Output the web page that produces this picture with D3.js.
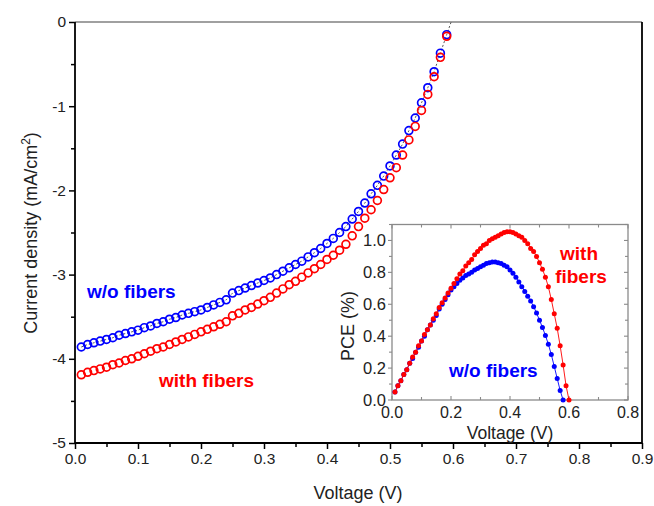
<!DOCTYPE html>
<html>
<head>
<meta charset="utf-8">
<script src="https://cdn.jsdelivr.net/npm/d3@7/dist/d3.min.js"></script>
<style>
  body { margin: 0; background: #fff; }
  svg { display: block; font-family: "Liberation Sans", Arial, sans-serif; }
</style>
</head>
<body>
<svg id="chart" width="654" height="506"></svg>
<script>
// J-V sweep (V), shared by both devices
const jvVoltage = [0.01,0.02,0.03,0.04,0.05,0.06,0.07,0.08,0.09,0.10,
  0.11,0.12,0.13,0.14,0.15,0.16,0.17,0.18,0.19,0.20,
  0.21,0.22,0.23,0.24,0.25,0.26,0.27,0.28,0.29,0.30,
  0.31,0.32,0.33,0.34,0.35,0.36,0.37,0.38,0.39,0.40,
  0.41,0.42,0.43,0.44,0.45,0.46,0.47,0.48,0.49,0.50,
  0.51,0.52,0.53,0.54,0.55,0.56,0.57,0.58,0.59];

// Current density (mA/cm2)
const jWithout = [-3.86,-3.83,-3.81,-3.79,-3.77,-3.75,-3.72,-3.70,-3.68,-3.66,
  -3.63,-3.61,-3.58,-3.56,-3.53,-3.51,-3.48,-3.46,-3.44,-3.42,
  -3.39,-3.36,-3.33,-3.30,-3.22,-3.19,-3.16,-3.13,-3.10,-3.07,
  -3.04,-3.00,-2.96,-2.92,-2.88,-2.84,-2.79,-2.74,-2.69,-2.63,
  -2.57,-2.50,-2.43,-2.34,-2.25,-2.15,-2.04,-1.94,-1.83,-1.71,
  -1.58,-1.45,-1.29,-1.14,-0.96,-0.78,-0.59,-0.37,-0.15];
const jWith = [-4.19,-4.16,-4.14,-4.12,-4.10,-4.07,-4.05,-4.02,-4.00,-3.97,
  -3.94,-3.91,-3.88,-3.86,-3.83,-3.80,-3.77,-3.74,-3.71,-3.68,
  -3.65,-3.62,-3.59,-3.56,-3.49,-3.46,-3.42,-3.39,-3.35,-3.31,
  -3.27,-3.22,-3.17,-3.12,-3.08,-3.03,-2.98,-2.93,-2.88,-2.82,
  -2.77,-2.71,-2.64,-2.54,-2.43,-2.33,-2.23,-2.12,-1.99,-1.85,
  -1.73,-1.58,-1.40,-1.24,-1.05,-0.86,-0.65,-0.42,-0.17];
// open-circuit voltage, where the guide line meets J = 0
const vocJV = 0.597;

// PCE (%) vs voltage for the inset
const pceVoltageWithout = [0.01,0.02,0.03,0.04,0.05,0.06,0.07,0.08,0.09,0.10,
  0.11,0.12,0.13,0.14,0.15,0.16,0.17,0.18,0.19,0.20,
  0.21,0.22,0.23,0.24,0.25,0.26,0.27,0.28,0.29,0.30,
  0.31,0.32,0.33,0.34,0.35,0.36,0.37,0.38,0.39,0.40,
  0.41,0.42,0.43,0.44,0.45,0.46,0.47,0.48,0.49,0.50,
  0.51,0.52,0.53,0.54,0.55,0.56,0.57,0.58];
const pceWithout = [0.05,0.09,0.12,0.16,0.19,0.23,0.26,0.30,0.33,0.37,
  0.40,0.44,0.47,0.50,0.53,0.57,0.60,0.63,0.66,0.69,
  0.71,0.73,0.75,0.765,0.78,0.79,0.80,0.815,0.825,0.835,
  0.845,0.855,0.86,0.865,0.865,0.86,0.855,0.845,0.835,0.815,
  0.795,0.77,0.74,0.71,0.68,0.65,0.62,0.585,0.545,0.50,
  0.455,0.405,0.35,0.285,0.21,0.135,0.06,0.00];
const pceVoltageWith = [0.01,0.02,0.03,0.04,0.05,0.06,0.07,0.08,0.09,0.10,
  0.11,0.12,0.13,0.14,0.15,0.16,0.17,0.18,0.19,0.20,
  0.21,0.22,0.23,0.24,0.25,0.26,0.27,0.28,0.29,0.30,
  0.31,0.32,0.33,0.34,0.35,0.36,0.37,0.38,0.39,0.40,
  0.41,0.42,0.43,0.44,0.45,0.46,0.47,0.48,0.49,0.50,
  0.51,0.52,0.53,0.54,0.55,0.56,0.57,0.58,0.59,0.60];
const pceWith = [0.05,0.09,0.12,0.16,0.19,0.23,0.27,0.30,0.34,0.37,
  0.41,0.44,0.47,0.51,0.54,0.58,0.61,0.64,0.67,0.70,
  0.73,0.76,0.79,0.81,0.84,0.86,0.88,0.91,0.93,0.95,
  0.97,0.98,1.00,1.01,1.02,1.03,1.04,1.05,1.055,1.055,
  1.05,1.04,1.03,1.02,1.00,0.98,0.95,0.93,0.90,0.86,
  0.82,0.77,0.71,0.63,0.54,0.45,0.34,0.22,0.09,0.00];

// tick labels
const mainXTicks = [0,0.1,0.2,0.3,0.4,0.5,0.6,0.7,0.8,0.9];
const mainYTicks = [0,-1,-2,-3,-4,-5];
const insetXTicks = [0,0.2,0.4,0.6,0.8];
const insetYTicks = [0,0.2,0.4,0.6,0.8,1.0];

const BLUE = "#0000ff", RED = "#ff0000";

const svg = d3.select("#chart");

// ---------- main J-V panel ----------
const x = d3.scaleLinear().domain([0, 0.9]).range([75, 642]);
const y = d3.scaleLinear().domain([0, -5]).range([22, 443]);

const axisG = svg.append("g");
// frame: gray line at J = 0, black left/right/bottom
axisG.append("line").attr("x1", x(0)).attr("x2", x(0.9)).attr("y1", y(0)).attr("y2", y(0))
  .attr("stroke", "#808080").attr("stroke-width", 1.6);
axisG.append("line").attr("x1", x(0.9)).attr("x2", x(0.9)).attr("y1", y(0)).attr("y2", y(-5))
  .attr("stroke", "#000").attr("stroke-width", 1.8);

const xAxis = d3.axisBottom(x).tickValues(mainXTicks).tickFormat(d3.format(".1f")).tickSize(6).tickPadding(4);
const gx = svg.append("g").attr("transform", `translate(0,${y(-5)})`).call(xAxis);
gx.selectAll(".tick line").attr("stroke-width", 1.5);
const xMinor = d3.axisBottom(x).tickValues(d3.range(0.05, 0.9, 0.1)).tickFormat("").tickSize(4);
svg.append("g").attr("transform", `translate(0,${y(-5)})`).call(xMinor)
  .call(g => g.select(".domain").remove())
  .selectAll(".tick line").attr("stroke-width", 1.5);
gx.select(".domain").attr("stroke-width", 1.8).attr("d", `M${x(0)},0H${x(0.9)}`);
gx.selectAll("text").attr("font-size", 15.5).attr("fill", "#222").attr("font-family", "Liberation Sans, Arial, sans-serif");

const yAxis = d3.axisLeft(y).tickValues(mainYTicks).tickFormat(d => d === 0 ? "0" : String(d)).tickSize(6).tickPadding(3);
const gy = svg.append("g").attr("transform", `translate(${x(0)},0)`).call(yAxis);
gy.selectAll(".tick line").attr("stroke-width", 1.5);
gy.select(".domain").attr("stroke-width", 1.8).attr("d", `M0,${y(0)}V${y(-5)}`);
gy.selectAll("text").attr("font-size", 15.5).attr("fill", "#222").attr("font-family", "Liberation Sans, Arial, sans-serif");
const yMinor = d3.axisLeft(y).tickValues([-0.5,-1.5,-2.5,-3.5,-4.5]).tickFormat("").tickSize(4);
svg.append("g").attr("transform", `translate(${x(0)},0)`).call(yMinor)
  .call(g => g.select(".domain").remove())
  .selectAll(".tick line").attr("stroke-width", 1.5);

// axis titles
svg.append("text").attr("x", 358).attr("y", 499).attr("text-anchor", "middle")
  .attr("font-size", 18).attr("fill", "#222").text("Voltage (V)");
const yt = svg.append("text").attr("transform", "translate(37,233) rotate(-90)")
  .attr("text-anchor", "middle").attr("font-size", 18).attr("fill", "#222");
yt.append("tspan").text("Current density (mA/cm");
yt.append("tspan").attr("font-size", 12).attr("dy", -7).text("2");
yt.append("tspan").attr("dy", 7).text(")");

// dashed guide line through the J-V points up to Voc
const jvLine = d3.line().x(d => x(d[0])).y(d => y(d[1]));
const guidePts = jvVoltage.map((v, i) => [v, jWithout[i]]).concat([[vocJV, 0]]);
svg.append("path").attr("d", jvLine(guidePts)).attr("fill", "none")
  .attr("stroke", "#555").attr("stroke-width", 1).attr("stroke-dasharray", "2,2");

function circles(vs, js, color) {
  svg.append("g").selectAll("circle").data(vs.map((v, i) => [v, js[i]])).join("circle")
    .attr("cx", d => x(d[0])).attr("cy", d => y(d[1])).attr("r", 3.9)
    .attr("fill", "none").attr("stroke", color).attr("stroke-width", 1.7);
}
circles(jvVoltage, jWithout, BLUE);
circles(jvVoltage, jWith, RED);

svg.append("text").attr("x", 87).attr("y", 298).attr("font-size", 19).attr("font-weight", "bold")
  .attr("fill", BLUE).text("w/o fibers");
svg.append("text").attr("x", 159).attr("y", 387).attr("font-size", 19).attr("font-weight", "bold")
  .attr("fill", RED).text("with fibers");

// ---------- inset PCE panel ----------
const ix = d3.scaleLinear().domain([0, 0.8]).range([392, 628]);
const iy = d3.scaleLinear().domain([0, 1.1]).range([400, 224.5]);
const GRAY = "#8a8a8a";

svg.append("rect").attr("x", ix(0)).attr("y", iy(1.1)).attr("width", ix(0.8) - ix(0))
  .attr("height", iy(0) - iy(1.1)).attr("fill", "#fff").attr("stroke", GRAY).attr("stroke-width", 1.3);

const ixTicksAll = d3.range(0, 9).map(i => i / 10);
const iyTicksAll = d3.range(0, 12).map(i => i / 10);
const tickG = svg.append("g").attr("stroke", GRAY).attr("stroke-width", 1.1);
ixTicksAll.forEach((t, i) => {
  const len = i % 2 === 0 ? 4 : 3;
  tickG.append("line").attr("x1", ix(t)).attr("x2", ix(t)).attr("y1", iy(0)).attr("y2", iy(0) - len);
  tickG.append("line").attr("x1", ix(t)).attr("x2", ix(t)).attr("y1", iy(1.1)).attr("y2", iy(1.1) + len);
});
iyTicksAll.forEach((t, i) => {
  const len = i % 2 === 0 ? 4 : 3;
  tickG.append("line").attr("x1", ix(0)).attr("x2", ix(0) - len).attr("y1", iy(t)).attr("y2", iy(t));
  tickG.append("line").attr("x1", ix(0.8)).attr("x2", ix(0.8) - len).attr("y1", iy(t)).attr("y2", iy(t));
});

svg.append("g").selectAll("text").data(insetXTicks).join("text")
  .attr("x", d => ix(d)).attr("y", 418).attr("text-anchor", "middle")
  .attr("font-size", 16).attr("fill", "#222").text(d => d.toFixed(1));
svg.append("g").selectAll("text").data(insetYTicks).join("text")
  .attr("x", 386).attr("y", d => iy(d) + 6).attr("text-anchor", "end")
  .attr("font-size", 16.5).attr("fill", "#222").text(d => d.toFixed(1));

svg.append("text").attr("x", 510).attr("y", 439).attr("text-anchor", "middle")
  .attr("font-size", 17.5).attr("fill", "#222").text("Voltage (V)");
svg.append("text").attr("transform", "translate(354,326) rotate(-90)").attr("text-anchor", "middle")
  .attr("font-size", 18).attr("fill", "#222").text("PCE (%)");

const pceLine = d3.line().x(d => ix(d[0])).y(d => iy(d[1]));
function pceSeries(vs, ps, color) {
  const pts = vs.map((v, i) => [v, ps[i]]);
  svg.append("path").attr("d", pceLine(pts)).attr("fill", "none")
    .attr("stroke", color).attr("stroke-width", 0.9);
  svg.append("g").selectAll("circle").data(pts).join("circle")
    .attr("cx", d => ix(d[0])).attr("cy", d => iy(d[1])).attr("r", 2.5).attr("fill", color);
}
pceSeries(pceVoltageWithout, pceWithout, BLUE);
pceSeries(pceVoltageWith, pceWith, RED);

svg.append("text").attr("x", 579).attr("y", 260).attr("text-anchor", "middle")
  .attr("font-size", 19).attr("font-weight", "bold").attr("fill", RED).text("with");
svg.append("text").attr("x", 581).attr("y", 283).attr("text-anchor", "middle")
  .attr("font-size", 19).attr("font-weight", "bold").attr("fill", RED).text("fibers");
svg.append("text").attr("x", 449).attr("y", 377)
  .attr("font-size", 19).attr("font-weight", "bold").attr("fill", BLUE).text("w/o fibers");
</script>
</body>
</html>
